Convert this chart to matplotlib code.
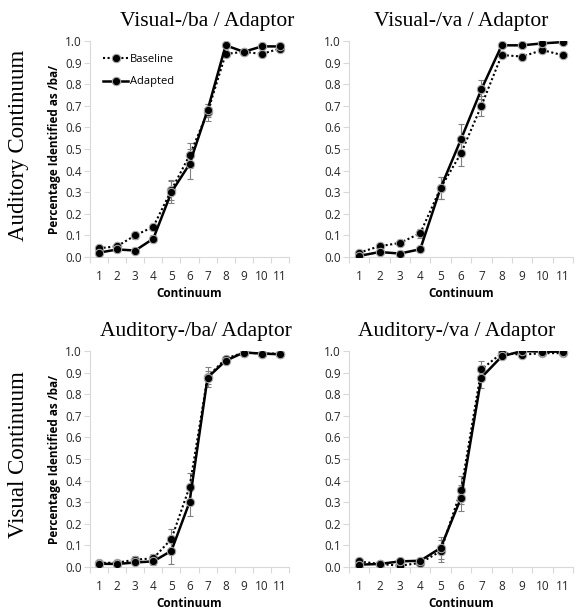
import numpy as np
import matplotlib
matplotlib.use("Agg")
import matplotlib.pyplot as plt
from matplotlib.ticker import FixedLocator, FormatStrFormatter

continuum = list(range(1, 12))

titles = ["Visual-/ba / Adaptor", "Visual-/va / Adaptor",
          "Auditory-/ba/ Adaptor", "Auditory-/va / Adaptor"]
row_labels = ["Auditory Continuum", "Visual Continuum"]

# visual /ba/ adaptor (auditory continuum)
vba_base = [0.04, 0.05, 0.10, 0.14, 0.31, 0.47, 0.67, 0.94, 0.95, 0.94, 0.965]
vba_adap = [0.02, 0.035, 0.03, 0.085, 0.30, 0.43, 0.68, 0.98, 0.95, 0.975, 0.975]
vba_err_base = [0.01, 0.01, 0.015, 0.015, 0.045, 0.06, 0.04, 0.01, 0.01, 0.01, 0.01]
vba_err_adap = [0.01, 0.01, 0.01, 0.015, 0.05, 0.07, 0.03, 0.01, 0.01, 0.01, 0.01]

# visual /va/ adaptor
vva_base = [0.02, 0.05, 0.065, 0.11, 0.32, 0.48, 0.70, 0.935, 0.928, 0.958, 0.934]
vva_adap = [0.005, 0.023, 0.016, 0.036, 0.32, 0.545, 0.776, 0.98, 0.98, 0.989, 0.995]
vva_err_base = [0.01, 0.01, 0.015, 0.02, 0.05, 0.06, 0.045, 0.01, 0.01, 0.01, 0.01]
vva_err_adap = [0.005, 0.01, 0.01, 0.01, 0.05, 0.07, 0.045, 0.01, 0.01, 0.01, 0.01]

# auditory /ba/ adaptor (visual continuum)
aba_base = [0.019, 0.02, 0.034, 0.04, 0.13, 0.37, 0.88, 0.965, 0.993, 0.988, 0.988]
aba_adap = [0.015, 0.014, 0.021, 0.026, 0.075, 0.30, 0.877, 0.955, 0.993, 0.988, 0.985]
aba_err_base = [0.01, 0.01, 0.015, 0.02, 0.045, 0.065, 0.045, 0.01, 0.005, 0.005, 0.005]
aba_err_adap = [0.005, 0.01, 0.01, 0.015, 0.06, 0.065, 0.03, 0.01, 0.005, 0.005, 0.005]

# auditory /va/ adaptor
ava_base = [0.026, 0.014, 0.006, 0.019, 0.073, 0.355, 0.915, 0.99, 0.983, 0.99, 0.99]
ava_adap = [0.011, 0.014, 0.026, 0.029, 0.088, 0.32, 0.877, 0.975, 1.0, 0.997, 0.997]
ava_err_base = [0.01, 0.005, 0.01, 0.01, 0.05, 0.065, 0.04, 0.005, 0.005, 0.005, 0.005]
ava_err_adap = [0.005, 0.005, 0.01, 0.01, 0.05, 0.06, 0.05, 0.005, 0.005, 0.005, 0.005]

panels = [
    (vba_base, vba_adap, vba_err_base, vba_err_adap),
    (vva_base, vva_adap, vva_err_base, vva_err_adap),
    (aba_base, aba_adap, aba_err_base, aba_err_adap),
    (ava_base, ava_adap, ava_err_base, ava_err_adap),
]

SERIF = "Liberation Serif"
SANS = "Open Sans"
TICK_COLOR = "#d9d9d9"

fig = plt.figure(figsize=(5.82, 6.14), dpi=100)

# axes rectangles in pixels: left, right, top, bottom
W, H = 582.0, 614.0
rects = [(90, 289, 41, 257), (349, 573, 41, 257),
         (90, 289, 351, 567), (349, 573, 351, 567)]
# title centres in pixels
title_x = [207, 461, 196, 457]

axes = []
for (l, r, t, b) in rects:
    ax = fig.add_axes([l / W, 1 - b / H, (r - l) / W, (b - t) / H])
    axes.append(ax)

for i, ax in enumerate(axes):
    base, adap, eb, ea = panels[i]
    x = np.array(continuum)
    ax.errorbar(x, base, yerr=eb, fmt='none', ecolor='#808080', elinewidth=0.8,
                capsize=2.5, capthick=0.8, zorder=2)
    ax.errorbar(x, adap, yerr=ea, fmt='none', ecolor='#808080', elinewidth=0.8,
                capsize=2.5, capthick=0.8, zorder=2)
    lb, = ax.plot(x, base, linestyle=(0, (1, 1.2)), color='black', linewidth=1.5,
                  marker='o', markersize=6, markerfacecolor='black',
                  markeredgecolor='#a6a6a6', markeredgewidth=0.8, zorder=3,
                  label='Baseline')
    la, = ax.plot(x, adap, linestyle='-', color='black', linewidth=1.8,
                  marker='o', markersize=6, markerfacecolor='black',
                  markeredgecolor='#a6a6a6', markeredgewidth=0.8, zorder=4,
                  label='Adapted')

    ax.set_xlim(0.5, 11.5)
    ax.set_ylim(0, 1.0)
    ax.set_yticks(np.arange(0, 1.01, 0.1))
    ax.yaxis.set_major_formatter(FormatStrFormatter('%.1f'))
    ax.set_xticks(continuum)
    ax.xaxis.set_minor_locator(FixedLocator(np.arange(0.5, 11.6, 1)))
    ax.tick_params(axis='x', which='major', length=0, labelsize=8.5, pad=9,
                   labelcolor='#262626')
    ax.tick_params(axis='x', which='minor', length=4, color=TICK_COLOR, width=0.8)
    ax.tick_params(axis='y', length=4, color=TICK_COLOR, width=0.8, labelsize=8.5,
                   labelcolor='#262626', pad=2)
    for lab in ax.get_xticklabels() + ax.get_yticklabels():
        lab.set_fontfamily(SANS)
    for s in ['top', 'right']:
        ax.spines[s].set_visible(False)
    ax.spines['left'].set_color(TICK_COLOR)
    ax.spines['bottom'].set_color(TICK_COLOR)
    ax.spines['left'].set_linewidth(0.8)
    ax.spines['bottom'].set_linewidth(0.8)

    ax.set_xlabel("Continuum", fontsize=8.5, fontweight='bold', family=SANS,
                  labelpad=3)
    if i % 2 == 0:
        ax.set_ylabel("Percentage Identified as /ba/", fontsize=8.5,
                      fontweight='bold', family=SANS, labelpad=3)
    l, r, t, b = rects[i]
    ax.set_title(titles[i], fontsize=15.5, family=SERIF, pad=11,
                 x=(title_x[i] - l) / (r - l))

    if i == 0:
        ax.legend(handles=[lb, la], loc='upper left', frameon=False,
                  prop={'family': SANS, 'size': 8},
                  handlelength=2.2, handletextpad=0.2, labelspacing=1.0,
                  borderaxespad=0.8)

fig.text(19 / W, 1 - 145 / H, row_labels[0], rotation=90, ha='center',
         va='center', fontsize=16.5, family=SERIF)
fig.text(19 / W, 1 - 455 / H, row_labels[1], rotation=90, ha='center',
         va='center', fontsize=16.5, family=SERIF)

fig.savefig("out.png", dpi=100)
